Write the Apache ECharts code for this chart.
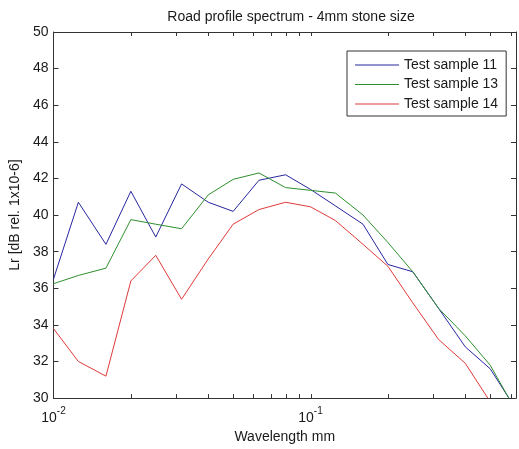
<!DOCTYPE html>
<html>
<head>
<meta charset="utf-8">
<script src="https://cdn.jsdelivr.net/npm/echarts@6/dist/echarts.min.js"></script>
<style>
  html, body { margin: 0; padding: 0; background: #fff; }
  #chart { width: 519px; height: 449px; }
</style>
</head>
<body>
<div id="chart"></div>
<script>
// ---- data ----
var wavelengths = [0.01, 0.0125, 0.016, 0.02, 0.025, 0.0315, 0.04, 0.05, 0.063, 0.08, 0.1, 0.125, 0.16, 0.2, 0.25, 0.315, 0.4, 0.5, 0.63];
var sample11 = [36.5, 40.7, 38.4, 41.3, 38.8, 41.7, 40.7, 40.2, 41.9, 42.2, 41.4, 40.5, 39.5, 37.3, 36.9, 34.9, 32.8, 31.6, 29.4];
var sample13 = [36.25, 36.7, 37.1, 39.75, 39.5, 39.25, 41.1, 41.95, 42.3, 41.5, 41.35, 41.2, 40.0, 38.5, 36.9, 34.9, 33.4, 31.8, 29.3];
var sample14 = [33.8, 32.0, 31.2, 36.4, 37.8, 35.4, 37.6, 39.5, 40.3, 40.7, 40.45, 39.7, 38.4, 37.2, 35.2, 33.2, 31.9, 29.8, 28.0];
var seriesNames = ['Test sample 11', 'Test sample 13', 'Test sample 14'];
var xTickValues = [0.01, 0.02, 0.03, 0.04, 0.05, 0.06, 0.07, 0.08, 0.09, 0.1, 0.2, 0.3, 0.4, 0.5, 0.6];
var xTickLabels = { '0.01': '-2', '0.1': '-1' };
var yMin = 30, yMax = 50, yStep = 2;
var xMin = 0.01, xMax = 0.63;

function pairs(xs, ys) { return xs.map(function (x, i) { return [x, ys[i]]; }); }

var textColor = '#1a1a1a';
var axisColor = '#333';
var fontFam = '"Liberation Sans", Arial, sans-serif';

var chart = echarts.init(document.getElementById('chart'), null, { renderer: 'canvas' });

var option = {
  backgroundColor: '#fff',
  animation: false,
  textStyle: { fontFamily: fontFam },
  title: {
    text: 'Road profile spectrum - 4mm stone size',
    left: 286, top: 5, textAlign: 'center',
    textStyle: { fontSize: 14, fontWeight: 'normal', color: textColor, fontFamily: fontFam }
  },
  grid: { left: 53, top: 32, width: 467, height: 368, containLabel: false },
  legend: {
    data: seriesNames,
    orient: 'vertical',
    left: 347, top: 51,
    icon: 'rect',
    itemWidth: 44, itemHeight: 1, itemGap: 5.5,
    padding: [7, 8, 5, 8],
    borderColor: '#333', borderWidth: 1, backgroundColor: '#fff',
    textStyle: { fontSize: 14, color: textColor, fontFamily: fontFam, lineHeight: 14 }
  },
  xAxis: [{
    type: 'log', logBase: 10, min: xMin, max: xMax,
    position: 'bottom',
    name: 'Wavelength mm', nameLocation: 'middle', nameGap: 30,
    nameTextStyle: { fontSize: 14, color: textColor, fontFamily: fontFam },
    axisLine: { show: true, lineStyle: { color: axisColor, width: 1 } },
    axisTick: { show: false },
    splitLine: { show: false },
    axisLabel: {
      margin: 5,
      showMinLabel: true, showMaxLabel: true,
      formatter: function (v) {
        var key = String(+v.toPrecision(6));
        if (xTickLabels[key] === undefined) return '';
        return '{b|10}{s|' + xTickLabels[key] + '}';
      },
      rich: {
        b: { fontSize: 14, color: textColor, fontFamily: fontFam, padding: [8, 0, 0, 0] },
        s: { fontSize: 10, color: textColor, fontFamily: fontFam, padding: [0, 0, 6, 0] }
      }
    }
  }, {
    type: 'log', logBase: 10, min: xMin, max: xMax,
    position: 'top',
    axisLine: { show: true, lineStyle: { color: axisColor, width: 1 } },
    axisTick: { show: false }, axisLabel: { show: false }, splitLine: { show: false }
  }],
  yAxis: [{
    type: 'value', min: yMin, max: yMax, interval: yStep,
    position: 'left',
    name: 'Lr [dB rel. 1x10-6]', nameLocation: 'middle', nameGap: 27,
    nameTextStyle: { fontSize: 14, color: textColor, fontFamily: fontFam },
    axisLine: { show: true, lineStyle: { color: axisColor, width: 1 } },
    axisTick: { show: true, inside: true, length: 5, lineStyle: { color: axisColor } },
    axisLabel: { fontSize: 14, color: textColor, margin: 5, fontFamily: fontFam },
    splitLine: { show: false }
  }, {
    type: 'value', min: yMin, max: yMax, interval: yStep,
    position: 'right',
    axisLine: { show: true, lineStyle: { color: axisColor, width: 1 } },
    axisTick: { show: true, inside: true, length: 5, lineStyle: { color: axisColor } },
    axisLabel: { show: false }, splitLine: { show: false }
  }],
  series: [
    {
      name: seriesNames[0], type: 'line', data: pairs(wavelengths, sample11),
      symbol: 'none', clip: true, lineStyle: { color: '#2626a0', width: 1 }, itemStyle: { color: '#2626a0' }
    },
    {
      name: seriesNames[1], type: 'line', data: pairs(wavelengths, sample13),
      symbol: 'none', clip: true, lineStyle: { color: '#2e8f2e', width: 1 }, itemStyle: { color: '#2e8f2e' }
    },
    {
      name: seriesNames[2], type: 'line', data: pairs(wavelengths, sample14),
      symbol: 'none', clip: true, lineStyle: { color: '#e03a3a', width: 1 }, itemStyle: { color: '#e03a3a' }
    },
    {
      name: 'xticks', type: 'custom', silent: true, clip: false,
      data: xTickValues.map(function (v) { return [v, yMin]; }),
      renderItem: function (params, api) {
        var x = api.value(0);
        var pb = api.coord([x, yMin]);
        var pt = api.coord([x, yMax]);
        var px = Math.round(pb[0]) + 0.5;
        var st = { stroke: axisColor, lineWidth: 1 };
        return {
          type: 'group',
          children: [
            { type: 'line', shape: { x1: px, y1: pb[1], x2: px, y2: pb[1] - 4 }, style: st },
            { type: 'line', shape: { x1: px, y1: pt[1], x2: px, y2: pt[1] + 4 }, style: st }
          ]
        };
      }
    }
  ]
};
chart.setOption(option);
</script>
</body>
</html>
